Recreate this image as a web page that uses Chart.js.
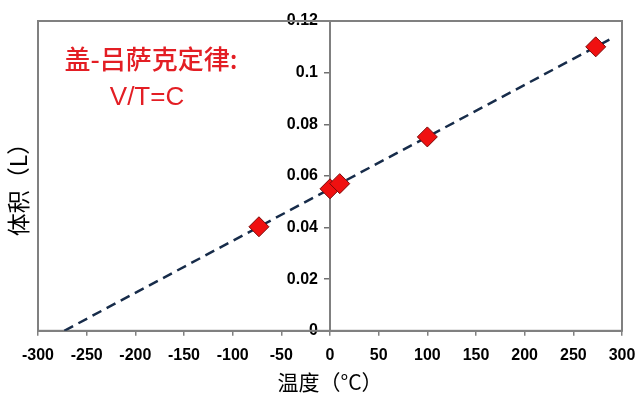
<!DOCTYPE html>
<html><head><meta charset="utf-8">
<script src="https://cdn.jsdelivr.net/npm/chart.js@4/dist/chart.umd.min.js"></script>
<style>html,body{margin:0;padding:0;background:#fff}#wrap{width:640px;height:399px}</style>
</head><body><div id="wrap"><canvas id="c" width="640" height="399"></canvas></div>
<script>
const temperatures = [-73, 0, 10, 100, 273];
const volumes = [0.0403, 0.055, 0.057, 0.0751, 0.110];
const trendTemps = [-273, 292];
const trendVolumes = [0, 0.1138];
const xTickRange = [-300, 300, 50];
const yTickRange = [0, 0.12, 0.02];
const xTitle = '温度（°C）';
const yTitle = '体积（L）';
const noteLines = ['盖-吕萨克定律:', 'V/T=C'];

const frame = {
  id: 'frame',
  beforeDatasetsDraw(chart) {
    const {ctx, chartArea: a} = chart;
    ctx.save();
    ctx.strokeStyle = '#808080';
    ctx.lineWidth = 2;
    ctx.strokeRect(a.left, a.top, a.right - a.left, a.bottom - a.top);
    ctx.restore();
  },
  afterDraw(chart) {
    const {ctx, chartArea: a} = chart;
    ctx.save();
    ctx.fillStyle = '#000';
    ctx.font = '23px "Noto Sans CJK SC"';
    ctx.textAlign = 'center';
    ctx.textBaseline = 'middle';
    ctx.translate(18, 184);
    ctx.rotate(-Math.PI / 2);
    ctx.fillText(yTitle, 0, 0);
    ctx.restore();
    ctx.save();
    ctx.fillStyle = '#000';
    ctx.font = '21px "Noto Sans CJK SC"';
    ctx.textAlign = 'center';
    ctx.textBaseline = 'middle';
    ctx.fillText(xTitle, 330, 382);
    ctx.restore();
    ctx.save();
    ctx.fillStyle = '#e31e24';
    ctx.textAlign = 'center';
    ctx.textBaseline = 'middle';
    ctx.font = '500 26px "Noto Sans CJK SC"';
    ctx.fillText(noteLines[0], a.left + 113, a.top + 38);
    ctx.font = '26px "Liberation Sans"';
    ctx.fillText(noteLines[1], a.left + 109, a.top + 77);
    ctx.restore();
  }
};

function shiftYLabels(s) {
  s.paddingTop = 0; s.paddingBottom = 0;
  if (!s._shifted) {
    const orig = s.drawLabels;
    s.drawLabels = function (area) {
      const ctx = this.ctx;
      ctx.save();
      ctx.translate(-12, 0);
      orig.call(this, area);
      ctx.restore();
    };
    s._shifted = true;
  }
}

new Chart(document.getElementById('c'), {
  type: 'scatter',
  data: {
    datasets: [
      {
        type: 'line',
        data: trendTemps.map((t, i) => ({x: t, y: trendVolumes[i]})),
        borderColor: '#172c4a',
        borderWidth: 2.5,
        borderDash: [10, 6],
        pointRadius: 0,
        fill: false,
        order: 2
      },
      {
        data: temperatures.map((t, i) => ({x: t, y: volumes[i]})),
        pointStyle: 'rectRot',
        pointRadius: 10,
        backgroundColor: '#f01010',
        borderColor: '#7a0808',
        borderWidth: 1,
        order: 1
      }
    ]
  },
  options: {
    responsive: false,
    animation: false,
    layout: {padding: {left: 38, right: 18, top: 21, bottom: 24}},
    plugins: {legend: {display: false}, tooltip: {enabled: false}},
    scales: {
      x: {
        type: 'linear',
        min: xTickRange[0], max: xTickRange[1],
        afterFit(s) { s.paddingLeft = 0; s.paddingRight = 0; },
        ticks: {stepSize: xTickRange[2], color: '#000', font: {family: 'Liberation Sans', size: 16, weight: 'bold'}, padding: 10},
        grid: {display: true, drawOnChartArea: false, drawTicks: true, tickLength: 5, color: '#808080', lineWidth: 1.5},
        border: {display: true, color: '#808080', width: 2},
        title: {display: false}
      },
      y: {
        type: 'linear',
        position: {x: 0},
        min: yTickRange[0], max: yTickRange[1],
        afterFit: shiftYLabels,
        ticks: {stepSize: yTickRange[2], color: '#000', font: {family: 'Liberation Sans', size: 16, weight: 'bold'}, padding: 9,
          callback: v => String(Math.round(v * 100) / 100)},
        grid: {display: true, drawOnChartArea: false, drawTicks: true, tickLength: 5, color: '#707070', lineWidth: 1.5},
        border: {display: true, color: '#808080', width: 2}
      }
    }
  },
  plugins: [frame]
});
</script></body></html>
